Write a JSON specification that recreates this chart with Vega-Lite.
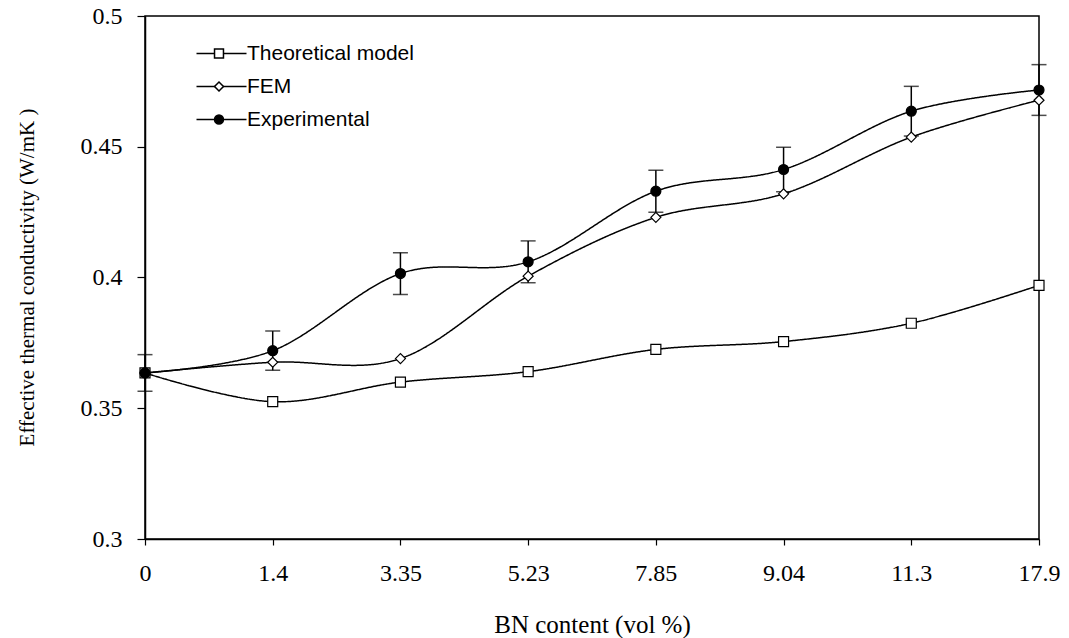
{
  "$schema": "https://vega.github.io/schema/vega-lite/v6.json",
  "width": 894,
  "height": 523,
  "autosize": {"type": "none"},
  "padding": {"left": 145, "top": 16, "right": 30, "bottom": 99},
  "background": "white",
  "config": {
    "view": {"stroke": "black", "strokeWidth": 1.5},
    "axis": {
      "domainColor": "black",
      "domainWidth": 1.5,
      "tickColor": "black",
      "tickWidth": 1.2,
      "grid": false,
      "labelFont": "Liberation Serif",
      "titleFont": "Liberation Serif",
      "labelColor": "black",
      "titleColor": "black",
      "titleFontWeight": "normal"
    },
    "legend": {
      "labelFont": "Liberation Sans",
      "labelFontSize": 21,
      "labelColor": "black",
      "labelLimit": 400,
      "padding": 0,
      "rowPadding": 11
    }
  },
  "datasets": {
    "series": [
      {"bn": "0", "series": "Theoretical model", "k": 0.3635},
      {"bn": "1.4", "series": "Theoretical model", "k": 0.3525},
      {"bn": "3.35", "series": "Theoretical model", "k": 0.36},
      {"bn": "5.23", "series": "Theoretical model", "k": 0.364},
      {"bn": "7.85", "series": "Theoretical model", "k": 0.3725},
      {"bn": "9.04", "series": "Theoretical model", "k": 0.3755},
      {"bn": "11.3", "series": "Theoretical model", "k": 0.3825},
      {"bn": "17.9", "series": "Theoretical model", "k": 0.397},
      {"bn": "0", "series": "FEM", "k": 0.3635},
      {"bn": "1.4", "series": "FEM", "k": 0.3676},
      {"bn": "3.35", "series": "FEM", "k": 0.369},
      {"bn": "5.23", "series": "FEM", "k": 0.4005},
      {"bn": "7.85", "series": "FEM", "k": 0.423},
      {"bn": "9.04", "series": "FEM", "k": 0.432},
      {"bn": "11.3", "series": "FEM", "k": 0.4537},
      {"bn": "17.9", "series": "FEM", "k": 0.4678},
      {"bn": "0", "series": "Experimental", "k": 0.3635},
      {"bn": "1.4", "series": "Experimental", "k": 0.372},
      {"bn": "3.35", "series": "Experimental", "k": 0.4015},
      {"bn": "5.23", "series": "Experimental", "k": 0.406},
      {"bn": "7.85", "series": "Experimental", "k": 0.433},
      {"bn": "9.04", "series": "Experimental", "k": 0.4413},
      {"bn": "11.3", "series": "Experimental", "k": 0.4636},
      {"bn": "17.9", "series": "Experimental", "k": 0.4717}
    ],
    "errors": [
      {"bn": "0", "lo": 0.3565, "hi": 0.3705},
      {"bn": "1.4", "lo": 0.3645, "hi": 0.3795},
      {"bn": "3.35", "lo": 0.3935, "hi": 0.4095},
      {"bn": "5.23", "lo": 0.398, "hi": 0.414},
      {"bn": "7.85", "lo": 0.425, "hi": 0.441},
      {"bn": "9.04", "lo": 0.4328, "hi": 0.4498},
      {"bn": "11.3", "lo": 0.4541, "hi": 0.4731},
      {"bn": "17.9", "lo": 0.462, "hi": 0.4814}
    ]
  },
  "resolve": {
    "legend": {"strokeDash": "independent", "shape": "independent", "fill": "independent"}
  },
  "encoding": {
    "x": {
      "field": "bn",
      "type": "ordinal",
      "sort": ["0", "1.4", "3.35", "5.23", "7.85", "9.04", "11.3", "17.9"],
      "scale": {"type": "point", "padding": 0},
      "axis": {
        "title": "BN content (vol %)",
        "labelAngle": 0,
        "labelFontSize": 24,
        "labelPadding": 16,
        "tickSize": 6,
        "titleFontSize": 25,
        "titleY": 85,
        "titleBaseline": "middle"
      }
    }
  },
  "layer": [
    {
      "data": {"name": "series"},
      "mark": {"type": "line", "interpolate": "cardinal", "tension": 0, "color": "black", "strokeWidth": 1.5},
      "encoding": {
        "y": {
          "field": "k",
          "type": "quantitative",
          "scale": {"domain": [0.3, 0.5], "nice": false, "zero": false},
          "axis": {
            "title": "Effective thermal conductivity (W/mK )",
            "values": [0.3, 0.35, 0.4, 0.45, 0.5],
            "format": ".2~f",
            "labelFontSize": 24,
            "labelPadding": 15,
            "tickSize": 8,
            "titleFontSize": 21,
            "titleX": -118,
            "titleY": 261,
            "titleAlign": "center",
            "titleBaseline": "middle"
          }
        },
        "strokeDash": {
          "field": "series",
          "type": "nominal",
          "scale": {
            "domain": ["Theoretical model", "FEM", "Experimental"],
            "range": [[1, 0], [1, 0], [1, 0]]
          },
          "legend": {
            "title": null,
            "orient": "none",
            "legendX": 66,
            "legendY": 27,
            "symbolType": "M-5,0H5",
            "symbolSize": 100,
            "symbolStrokeColor": "black",
            "symbolStrokeWidth": 1.5,
            "labelOffset": 15,
            "symbolDash": [1, 0]
          }
        }
      }
    },
    {
      "data": {"name": "errors"},
      "mark": {"type": "rule", "color": "black", "strokeWidth": 1.5},
      "encoding": {
        "y": {"field": "lo", "type": "quantitative"},
        "y2": {"field": "hi"}
      }
    },
    {
      "data": {"name": "errors"},
      "mark": {"type": "tick", "color": "black", "size": 15, "thickness": 1.5},
      "encoding": {"y": {"field": "lo", "type": "quantitative"}}
    },
    {
      "data": {"name": "errors"},
      "mark": {"type": "tick", "color": "black", "size": 15, "thickness": 1.5},
      "encoding": {"y": {"field": "hi", "type": "quantitative"}}
    },
    {
      "data": {"name": "series"},
      "mark": {"type": "point", "filled": true, "stroke": "black", "strokeWidth": 1.2, "opacity": 1},
      "encoding": {
        "y": {"field": "k", "type": "quantitative"},
        "shape": {
          "field": "series",
          "type": "nominal",
          "scale": {
            "domain": ["Theoretical model", "FEM", "Experimental"],
            "range": ["square", "diamond", "circle"]
          },
          "legend": {
            "title": null,
            "orient": "none",
            "legendX": 63.5,
            "legendY": 27,
            "symbolSize": 80,
            "labelExpr": "''",
            "encode": {
              "symbols": {
                "update": {
                  "stroke": {"value": "black"},
                  "strokeWidth": {"value": 1.2},
                  "opacity": {"value": 1}
                }
              }
            }
          }
        },
        "fill": {
          "field": "series",
          "type": "nominal",
          "scale": {
            "domain": ["Theoretical model", "FEM", "Experimental"],
            "range": ["white", "white", "black"]
          },
          "legend": {
            "title": null,
            "orient": "none",
            "legendX": 63.5,
            "legendY": 27,
            "symbolSize": 80,
            "labelExpr": "''",
            "encode": {
              "symbols": {
                "update": {
                  "stroke": {"value": "black"},
                  "strokeWidth": {"value": 1.2},
                  "opacity": {"value": 1}
                }
              }
            }
          }
        },
        "size": {"value": 100},
        "order": {"field": "series", "sort": "descending"}
      }
    }
  ]
}
